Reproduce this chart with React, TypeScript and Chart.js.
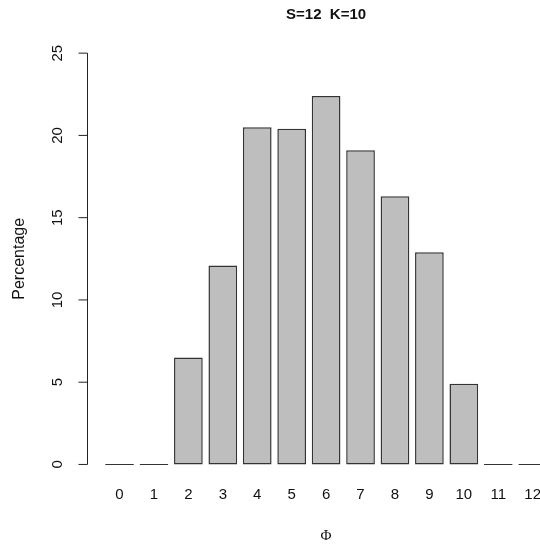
import React, { useEffect, useRef } from "react";
import { Chart, registerables } from "chart.js";

Chart.register(...registerables);

const categories = ["0", "1", "2", "3", "4", "5", "6", "7", "8", "9", "10", "11", "12"];
const percentages = [0, 0, 6.5, 12.1, 20.5, 20.4, 22.4, 19.1, 16.3, 12.9, 4.9, 0, 0];
const yTicks = [0, 5, 10, 15, 20, 25];
const titleText = "S=12  K=10";
const yLabel = "Percentage";
const xLabel = "\u03A6";

const SANS = '"Liberation Sans", Arial, Helvetica, sans-serif';
const SERIF = '"Liberation Serif", "Times New Roman", serif';

const rAxisPlugin = {
  id: "rAxis",
  afterDraw(chart: any) {
    const ctx = chart.ctx;
    const xs = chart.scales.x;
    const ys = chart.scales.y;
    const area = chart.chartArea;
    const cx = (area.left + area.right) / 2;
    const cy = (area.top + area.bottom) / 2;
    ctx.save();
    ctx.strokeStyle = "#222";
    ctx.fillStyle = "#111";
    ctx.lineWidth = 1;
    const ax = area.left;
    const yA = ys.getPixelForValue(yTicks[0]);
    const yB = ys.getPixelForValue(yTicks[yTicks.length - 1]);
    ctx.beginPath();
    ctx.moveTo(ax, yA);
    ctx.lineTo(ax, yB);
    yTicks.forEach((t) => {
      const py = ys.getPixelForValue(t);
      ctx.moveTo(ax, py);
      ctx.lineTo(ax - 9, py);
    });
    ctx.stroke();

    ctx.font = `15px ${SANS}`;
    ctx.textAlign = "center";
    ctx.textBaseline = "middle";
    yTicks.forEach((t) => {
      const py = ys.getPixelForValue(t);
      ctx.save();
      ctx.translate(ax - 30, py);
      ctx.rotate(-Math.PI / 2);
      ctx.fillText(String(t), 0, 0);
      ctx.restore();
    });

    categories.forEach((c, i) => {
      ctx.fillText(c, xs.getPixelForValue(i), area.bottom + 14);
    });

    ctx.save();
    ctx.font = `16px ${SANS}`;
    ctx.translate(20, cy);
    ctx.rotate(-Math.PI / 2);
    ctx.fillText(yLabel, 0, 0);
    ctx.restore();

    ctx.font = `15px ${SERIF}`;
    ctx.fillText(xLabel, cx, area.bottom + 55);

    ctx.font = `bold 15px ${SANS}`;
    ctx.fillText(titleText, cx, 14.5);
    ctx.restore();
  },
};

export default function App() {
  const ref = useRef<HTMLCanvasElement | null>(null);
  useEffect(() => {
    if (!ref.current) return;
    const chart = new Chart(ref.current, {
      type: "bar",
      data: {
        datasets: [
          {
            data: percentages.map((v, i) => ({ x: i, y: v })),
            backgroundColor: "#bebebe",
            borderColor: "#333333",
            borderWidth: 1.5,
            borderSkipped: false,
            minBarLength: 1,
            barPercentage: 1 / 1.2,
            categoryPercentage: 1,
          },
        ],
      },
      options: {
        animation: false,
        responsive: false,
        devicePixelRatio: 1,
        layout: { padding: { left: 87.5, right: 15.3, top: 36.7, bottom: 69.1 } },
        plugins: { legend: { display: false }, tooltip: { enabled: false }, title: { display: false } },
        scales: {
          x: { type: "linear", offset: false, min: -0.93, max: 12.93, display: false },
          y: { type: "linear", min: -1, max: 26, display: false },
        },
      },
      plugins: [rAxisPlugin],
    } as any);
    return () => chart.destroy();
  }, []);
  return (
    <div
      style={{
        position: "fixed",
        left: 0,
        top: 0,
        width: 540,
        height: 550,
        overflow: "hidden",
        background: "#fff",
      }}
    >
      <canvas ref={ref} width={580} height={550} style={{ display: "block" }} />
    </div>
  );
}
